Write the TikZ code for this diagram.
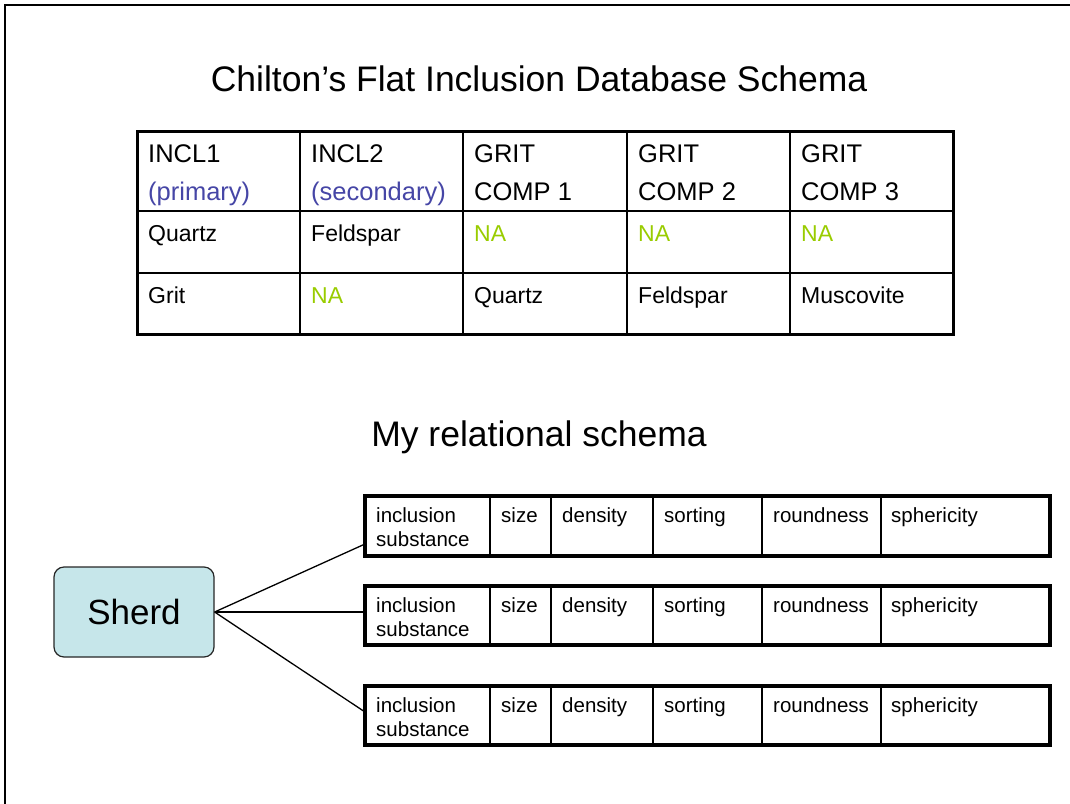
\documentclass[tikz,border=0pt]{standalone}
\usepackage{fontspec}
\setmainfont{Liberation Sans}
\definecolor{hdrblue}{HTML}{4646A6}
\definecolor{nagreen}{HTML}{99CC00}
\definecolor{sherdfill}{HTML}{C6E6EA}
\begin{document}
\begin{tikzpicture}[x=1pt,y=-1pt,
  title/.style={font=\fontsize{35.5}{40}\selectfont, inner sep=0pt},
  hdr/.style={font=\fontsize{25.5}{38}\selectfont, anchor=north west, align=left, inner sep=0pt},
  cell/.style={font=\fontsize{23}{27}\selectfont, anchor=base west, inner sep=0pt},
  rcell/.style={font=\fontsize{20.5}{24}\selectfont, anchor=north west, align=left, inner sep=0pt},
  thickrule/.style={line width=3pt},
  thinrule/.style={line width=1.5pt},
  sherdbox/.style={draw=black!85, line width=1.2pt, fill=sherdfill, rounded corners=10pt,
    minimum width=160pt, minimum height=90pt, font=\fontsize{35}{40}\selectfont},
  link/.style={line width=1.3pt}]
\useasboundingbox (0,0) rectangle (1070,803);
% frame
\draw[line width=2pt] (1075,5) -- (5,5) -- (5,808);
% titles
\node[title] (t1title) at (539,79) {Chilton’s Flat Inclusion Database Schema};
\node[title] (t2title) at (539,437) {My relational schema};
% table 1 grid
\foreach \x in {300,463,627,790} \draw[thinrule] (\x,131) -- (\x,334);
\foreach \y in {211,273} \draw[thinrule] (137,\y) -- (953,\y);
\draw[thickrule] (137,131) rectangle (953,334);
% table 1 texts
\node[hdr] (h1) at (148,144) {INCL1\\\textcolor{hdrblue}{(primary)}};
\node[hdr] (h2) at (311,144) {INCL2\\\textcolor{hdrblue}{(secondary)}};
\node[hdr] (h3) at (474,144) {GRIT\\COMP 1};
\node[hdr] (h4) at (638,144) {GRIT\\COMP 2};
\node[hdr] (h5) at (801,144) {GRIT\\COMP 3};
\node[cell] (r1c1) at (148,241) {Quartz};
\node[cell] (r1c2) at (311,241) {Feldspar};
\node[cell, text=nagreen] (r1c3) at (474,241) {NA};
\node[cell, text=nagreen] (r1c4) at (638,241) {NA};
\node[cell, text=nagreen] (r1c5) at (801,241) {NA};
\node[cell] (r2c1) at (148,303) {Grit};
\node[cell, text=nagreen] (r2c2) at (311,303) {NA};
\node[cell] (r2c3) at (474,303) {Quartz};
\node[cell] (r2c4) at (638,303) {Feldspar};
\node[cell] (r2c5) at (801,303) {Muscovite};
% relational tables
\foreach \t/\b/\n in {496/556/a, 586/645/b, 686/745/c}{
  \foreach \x in {490,551,653,762,881} \draw[thinrule] (\x,\t) -- (\x,\b);
  \draw[line width=3.5pt] (365,\t) rectangle (1050,\b);
  \node[rcell] (\n1) at (376,\t+11) {inclusion\\substance};
  \node[rcell] (\n2) at (501,\t+11) {size};
  \node[rcell] (\n3) at (562,\t+11) {density};
  \node[rcell] (\n4) at (664,\t+11) {sorting};
  \node[rcell] (\n5) at (773,\t+11) {roundness};
  \node[rcell] (\n6) at (891,\t+11) {sphericity};
}
% sherd
\node[sherdbox] (sherd) at (134,612) {Sherd};
\coordinate (ea) at (365,544);
\coordinate (eb) at (365,612);
\coordinate (ec) at (365,712);
\draw[link] (sherd.east) -- (ea);
\draw[link] (sherd.east) -- (eb);
\draw[link] (sherd.east) -- (ec);
\end{tikzpicture}
\end{document}
